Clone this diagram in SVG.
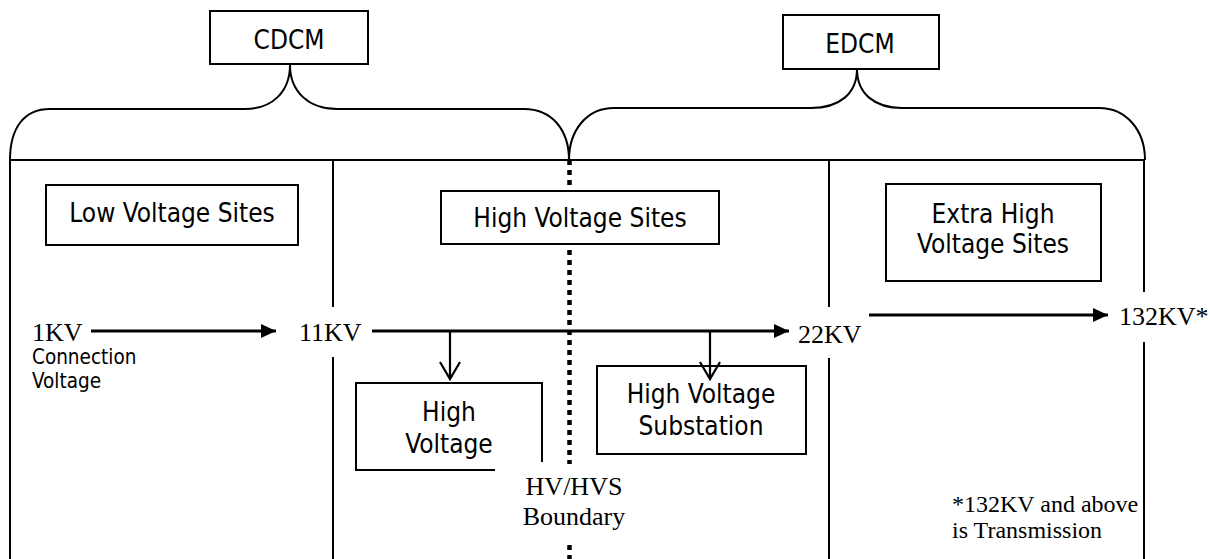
<svg xmlns="http://www.w3.org/2000/svg" width="1210" height="559" viewBox="0 0 1210 559">
<style>
.ln{fill:none;stroke:#000;stroke-width:2}
.ar{fill:none;stroke:#000;stroke-width:3}
.dn{fill:none;stroke:#000;stroke-width:2.2}
.box{fill:#fff;stroke:#000;stroke-width:2}
.s{font-family:'DejaVu Sans Condensed','DejaVu Sans',sans-serif;font-stretch:condensed;font-size:26px;fill:#000}
.sm{font-family:'DejaVu Sans Condensed','DejaVu Sans',sans-serif;font-stretch:condensed;font-size:20.5px;fill:#000}
.t{font-family:'Liberation Serif','Times New Roman',serif;font-size:26px;fill:#000}
.ts{font-family:'Liberation Serif','Times New Roman',serif;font-size:24px;fill:#000}
.c{text-anchor:middle}
</style>
<defs>
<marker id="tri" markerWidth="16" markerHeight="16" refX="15" refY="7" orient="auto" markerUnits="userSpaceOnUse">
<path d="M0,0 L15,7 L0,14 Z" fill="#000"/>
</marker>
</defs>
<rect width="1210" height="559" fill="#fff"/>
<g id="frame">
<line class="ln" x1="10" y1="160" x2="1145" y2="160"/>
<line class="ln" x1="10" y1="160" x2="10" y2="559"/>
<line class="ln" x1="333" y1="160" x2="333" y2="307"/>
<line class="ln" x1="333" y1="357" x2="333" y2="559"/>
<line class="ln" x1="829" y1="160" x2="829" y2="307"/>
<line class="ln" x1="829" y1="358" x2="829" y2="559"/>
<line class="ln" x1="1144" y1="160" x2="1144" y2="292"/>
<line class="ln" x1="1144" y1="342" x2="1144" y2="559"/>
</g>
<g id="boundary">
<line x1="569.5" y1="160" x2="569.5" y2="464" stroke="#000" stroke-width="4.5" stroke-dasharray="5 5"/>
<line x1="569.5" y1="545" x2="569.5" y2="559" stroke="#000" stroke-width="4.5" stroke-dasharray="5 5"/>
<text class="t c" x="574" y="495">HV/HVS</text>
<text class="t c" x="574" y="525">Boundary</text>
</g>
<g id="cdcm">
<path class="ln" d="M10,160 C10,128 24,109 50,109 L245,109 C272,109 290,92 290,65 C290,92 309,109 337,109 L524,109 C552,109 569,130 569,160"/>
<rect class="box" x="210" y="11" width="158" height="53"/>
<text class="s c" x="289" y="49">CDCM</text>
</g>
<g id="edcm">
<path class="ln" d="M569,160 C569,130 587,108 614,108 L811,108 C839,108 857,94 857,69 C857,94 875,108 902,108 L1099,108 C1126,108 1145,130 1145,160"/>
<rect class="box" x="783" y="15" width="156" height="54"/>
<text class="s c" x="860" y="53">EDCM</text>
</g>
<g id="lv-sites">
<rect class="box" x="46" y="185" width="252" height="60"/>
<text class="s c" x="172" y="222">Low Voltage Sites</text>
</g>
<g id="hv-sites">
<rect class="box" x="441" y="191" width="278" height="53"/>
<text class="s c" x="580" y="227">High Voltage Sites</text>
</g>
<g id="ehv-sites">
<rect class="box" x="886" y="184" width="215" height="97"/>
<text class="s c" x="993" y="223">Extra High</text>
<text class="s c" x="993" y="253">Voltage Sites</text>
</g>
<g id="hv">
<path class="ln" d="M495,470 L356,470 L356,383 L542,383 L542,462"/>
<text class="s c" x="449" y="421">High</text>
<text class="s c" x="449" y="453">Voltage</text>
</g>
<g id="hvs">
<rect class="box" x="597" y="366" width="209" height="88"/>
<text class="s c" x="701" y="403">High Voltage</text>
<text class="s c" x="701" y="435">Substation</text>
</g>
<g id="labels">
<text class="t" x="32" y="341">1KV</text>
<text class="sm" x="32" y="364">Connection</text>
<text class="sm" x="32" y="388">Voltage</text>
<text class="t" x="299" y="341">11KV</text>
<text class="t" x="798" y="343">22KV</text>
<text class="t" x="1119" y="325">132KV*</text>
<text class="ts" x="952" y="512">*132KV and above</text>
<text class="ts" x="952" y="538">is Transmission</text>
</g>
<g id="connectors">
<line class="ar" x1="91" y1="331" x2="276" y2="331" marker-end="url(#tri)"/>
<line class="ar" x1="372" y1="331" x2="789" y2="331" marker-end="url(#tri)"/>
<line class="ar" x1="869" y1="315" x2="1108" y2="315" marker-end="url(#tri)"/>
<path class="dn" d="M450,331 L450,379 M440,362 L450,379 L460,362"/>
<path class="dn" d="M710,331 L710,379 M700,362 L710,379 L720,362"/>
</g>
</svg>
